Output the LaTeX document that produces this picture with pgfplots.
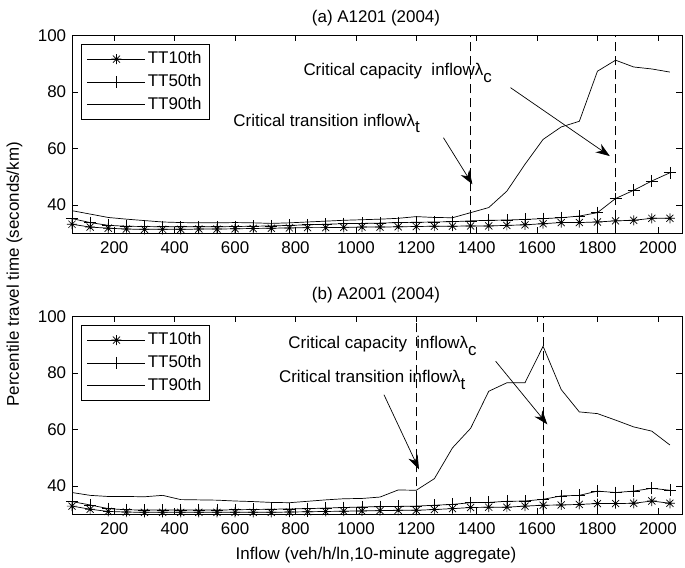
\documentclass[border=0pt]{standalone}
\usepackage{fontspec}
\setmainfont{Liberation Sans}
\usepackage{pgfplots}
\pgfplotsset{compat=1.18}
\usetikzlibrary{arrows.meta}
\pgfdeclareplotmark{mstar}{%
  \pgfpathmoveto{\pgfqpoint{-\pgfplotmarksize}{0pt}}\pgfpathlineto{\pgfqpoint{\pgfplotmarksize}{0pt}}%
  \pgfpathmoveto{\pgfqpoint{0pt}{-\pgfplotmarksize}}\pgfpathlineto{\pgfqpoint{0pt}{\pgfplotmarksize}}%
  \pgfpathmoveto{\pgfqpoint{-0.7071\pgfplotmarksize}{-0.7071\pgfplotmarksize}}\pgfpathlineto{\pgfqpoint{0.7071\pgfplotmarksize}{0.7071\pgfplotmarksize}}%
  \pgfpathmoveto{\pgfqpoint{-0.7071\pgfplotmarksize}{0.7071\pgfplotmarksize}}\pgfpathlineto{\pgfqpoint{0.7071\pgfplotmarksize}{-0.7071\pgfplotmarksize}}%
  \pgfusepathqstroke}

\pgfplotstableread{
x    t10a t50a t90a t10b t50b t90b
60   33.2 35.2 38.0 32.9 34.5 37.7
120  32.2 33.8 36.8 31.8 33.3 36.7
180  31.8 32.8 35.6 31.0 32.0 36.3
240  31.5 32.5 35.0 30.8 31.6 36.3
300  31.4 32.4 34.5 30.7 31.5 36.2
360  31.4 32.3 34.0 30.7 31.5 36.7
420  31.4 32.3 33.8 30.7 31.5 35.2
480  31.5 32.3 33.7 30.7 31.5 35.1
540  31.5 32.3 33.7 30.7 31.5 35.0
600  31.6 32.4 33.8 30.7 31.6 34.7
660  31.7 32.5 33.7 30.7 31.7 34.5
720  31.8 32.6 33.5 30.7 31.8 34.2
780  31.9 32.8 33.7 30.8 31.9 34.1
840  32.0 33.0 34.0 30.9 32.0 34.6
900  32.0 33.2 34.3 31.0 32.2 35.1
960  32.1 33.4 34.6 31.1 32.4 35.5
1020 32.2 33.5 34.8 31.2 32.6 35.6
1080 32.2 33.6 35.0 31.3 32.7 36.1
1140 32.3 33.8 35.3 31.4 32.8 38.6
1200 32.4 33.9 35.9 31.4 32.9 38.5
1260 32.5 34.0 35.6 31.7 33.2 42.6
1320 32.5 34.1 35.5 32.0 33.5 53.5
1380 32.6 34.4 37.3 32.4 34.1 60.4
1440 32.6 34.6 39.1 32.5 34.2 73.5
1500 32.8 34.7 44.9 32.5 34.6 76.5
1560 33.0 34.9 54.4 32.9 34.7 76.5
1620 33.4 35.2 63.2 33.2 35.3 89.4
1680 33.8 35.5 67.6 33.3 36.5 74.1
1740 33.8 36.1 69.6 33.5 36.7 66.2
1800 34.0 37.3 87.3 33.8 38.2 65.6
1860 34.4 42.3 91.2 33.8 37.7 63.3
1920 34.6 45.2 88.8 33.9 38.2 60.9
1980 35.3 48.5 88.1 34.7 39.2 59.4
2040 35.3 51.4 87.0 33.9 38.5 54.5
}\datatable

\pgfplotsset{
  mystyle/.style={
    scale only axis, width=610bp, height=198bp,
    xmin=60, xmax=2080, ymin=30, ymax=100,
    xtick={200,400,...,2000}, ytick={40,60,80,100},
    tick align=inside, major tick length=6bp,
    tick style={black, line width=0.6bp},
    axis line style={line width=0.8bp},
    /pgf/number format/assume math mode=true,
    /pgf/number format/1000 sep={},
    ticklabel style={font=\fontsize{17}{20}\selectfont},
    xticklabel style={yshift=-3bp},
    legend style={at={(0.0143,0.9546)}, anchor=north west, draw=black,
      line width=0.8bp, inner xsep=6bp, inner ysep=5bp,
      font=\fontsize{17}{20}\selectfont, cells={anchor=west}, row sep=4bp},
    legend image code/.code={\draw[mark repeat=2,mark phase=2,##1] plot coordinates {(7bp,0bp) (36bp,0bp) (65bp,0bp)};},
  },
  s10/.style={black, line width=0.7bp, mark=mstar, mark size=5bp, mark options={solid}},
  s50/.style={black, line width=0.7bp, mark=+, mark size=6bp, mark options={solid}},
  s90/.style={black, line width=0.7bp, no marks},
}

\begin{document}
\fontsize{17}{20}\selectfont
\begin{tikzpicture}
\useasboundingbox (-72bp,-334.7bp) rectangle (613bp,233.3bp);
\begin{axis}[mystyle, at={(0,0)}, anchor=south west]
\addplot[s10] table[x=x,y=t10a] {\datatable};
\addplot[s50] table[x=x,y=t50a] {\datatable};
\addplot[s90] table[x=x,y=t90a] {\datatable};
\legend{TT10th\hspace{5bp},TT50th\hspace{5bp},TT90th\hspace{5bp}}
\draw[black, line width=0.7bp, dash pattern=on 9bp off 5bp] (axis cs:1380,30) -- (axis cs:1380,100);
\draw[black, line width=0.7bp, dash pattern=on 9bp off 5bp] (axis cs:1860,30) -- (axis cs:1860,100);
\node[anchor=base west, inner sep=0pt] at (axis cs:826,85.75) {Critical capacity\ \ inflowλ\raisebox{-0.4em}{c}};
\node[anchor=base west, inner sep=0pt] at (axis cs:594,67.9) {Critical transition inflowλ\raisebox{-0.4em}{t}};
\draw[black, line width=0.7bp, -{Stealth[length=14bp,width=10bp]}] (axis cs:1512,81.5) -- (axis cs:1841,57.3);
\draw[black, line width=0.7bp, -{Stealth[length=14bp,width=10bp]}] (axis cs:1290,63.8) -- (axis cs:1386,47.3);
\end{axis}
\begin{axis}[mystyle, at={(0,-281bp)}, anchor=south west]
\addplot[s10] table[x=x,y=t10b] {\datatable};
\addplot[s50] table[x=x,y=t50b] {\datatable};
\addplot[s90] table[x=x,y=t90b] {\datatable};
\legend{TT10th\hspace{5bp},TT50th\hspace{5bp},TT90th\hspace{5bp}}
\draw[black, line width=0.7bp, dash pattern=on 9bp off 5bp] (axis cs:1200,30) -- (axis cs:1200,100);
\draw[black, line width=0.7bp, dash pattern=on 9bp off 5bp] (axis cs:1620,30) -- (axis cs:1620,100);
\node[anchor=base west, inner sep=0pt] at (axis cs:776,88.6) {Critical capacity\ \ inflowλ\raisebox{-0.4em}{c}};
\node[anchor=base west, inner sep=0pt] at (axis cs:745,76.5) {Critical transition inflowλ\raisebox{-0.4em}{t}};
\draw[black, line width=0.7bp, -{Stealth[length=14bp,width=10bp]}] (axis cs:1463,84.1) -- (axis cs:1634,61.8);
\draw[black, line width=0.7bp, -{Stealth[length=14bp,width=10bp]}] (axis cs:1093,72.3) -- (axis cs:1209,45.9);
\end{axis}
\node[anchor=base] at (304bp,211bp) {(a) A1201 (2004)};
\node[anchor=base] at (304bp,-66bp) {(b) A2001 (2004)};
\node[anchor=base] at (304bp,-326bp) {Inflow (veh/h/ln,10-minute aggregate)};
\node[anchor=base, rotate=90] at (-53bp,-41bp) {Percentile travel time (seconds/km)};
\end{tikzpicture}
\end{document}
